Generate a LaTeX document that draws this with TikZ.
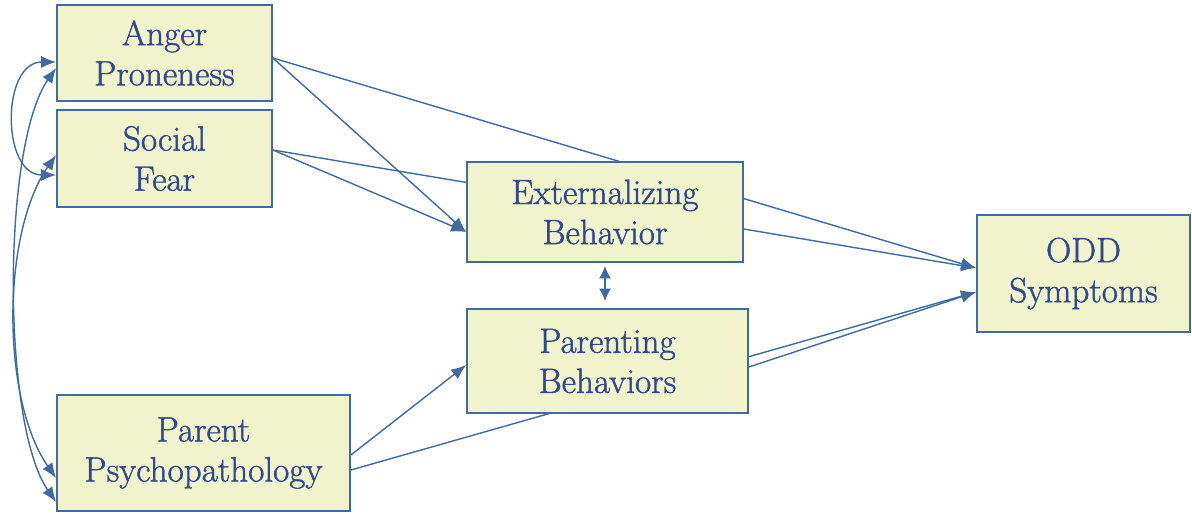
\documentclass[tikz,border=0pt]{standalone}
\usepackage{fontspec}
\usepackage{tikz}
\usetikzlibrary{arrows.meta, backgrounds}
\newfontfamily\boxfont{Latin Modern Roman}[FakeBold=1.2]
\definecolor{boxfill}{RGB}{241,243,204}
\definecolor{boxline}{RGB}{66,106,162}
\definecolor{boxtext}{RGB}{50,72,140}
\tikzstyle{var} = [rectangle, draw=boxline, fill=boxfill, line width=1pt, text=boxtext, align=center, font=\boxfont\fontsize{20}{22.8}\selectfont]
\tikzstyle{arrow} = [draw=boxline, line width=0.8pt, -{Latex[length=3mm,width=2.4mm]}]
\tikzstyle{both} = [draw=boxline, line width=0.8pt, {Latex[length=3mm,width=2.4mm]}-{Latex[length=3mm,width=2.4mm]}]

\begin{document}
\begin{tikzpicture}
\useasboundingbox (0,0) rectangle (23.84,-10.28);

% Nodes
\node (anger) [var, minimum width=4.3cm, minimum height=1.92cm] at (3.29,-1.06) {Anger\\Proneness};
\node (fear) [var, minimum width=4.3cm, minimum height=1.94cm] at (3.29,-3.17) {Social\\Fear};
\node (psych) [var, minimum width=5.86cm, minimum height=2.32cm] at (4.07,-9.06) {Parent\\Psychopathology};
\node (ext) [var, minimum width=5.52cm, minimum height=2cm] at (12.1,-4.24) {Externalizing\\Behavior};
\node (parenting) [var, minimum width=5.62cm, minimum height=2.08cm] at (12.15,-7.22) {Parenting\\Behaviors};
\node (odd) [var, minimum width=4.26cm, minimum height=2.34cm] at (21.67,-5.47) {ODD\\Symptoms};

% Arrows (under the boxes)
\begin{pgfonlayer}{background}
\draw [arrow] ([yshift=-1mm]anger.east) -- ([yshift=-4mm]ext.west);
\draw [arrow] ([yshift=1.7mm]fear.east) -- ([yshift=-4mm]ext.west);
\draw [arrow] ([yshift=-1mm]anger.east) -- ([yshift=1.1mm]odd.west);
\draw [arrow] ([yshift=1.7mm]fear.east) -- ([yshift=1.1mm]odd.west);
\draw [arrow] ([yshift=-0.4mm]psych.east) -- ([yshift=-0.8mm]parenting.west);
\draw [arrow] ([yshift=-3.4mm]psych.east) -- ([yshift=-3.7mm]odd.west);
\draw [arrow] ([xshift=-0.6mm,yshift=-1.4mm]parenting.east) -- ([yshift=-3.7mm]odd.west);

\draw [both] ([yshift=-1.8mm]anger.west) to[out=180, in=180, looseness=1.25] ([yshift=-3.3mm]fear.west);
\draw [both] ([yshift=-3mm]anger.west) to[out=235, in=125, looseness=0.56] ([yshift=-9.8mm]psych.west);
\draw [both] ([yshift=0.7mm]fear.west) to[out=235, in=125, looseness=0.76] ([yshift=-5mm]psych.west);
\draw [both, {Latex[length=2.5mm,width=2.4mm]}-{Latex[length=2.5mm,width=2.4mm]}] ([yshift=-0.6mm]ext.south) -- ([yshift=1.4mm]ext.south |- parenting.north);
\end{pgfonlayer}

\end{tikzpicture}
\end{document}
